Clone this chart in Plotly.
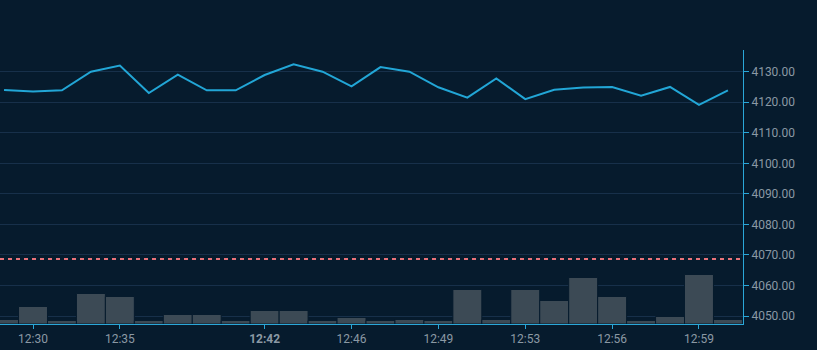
import plotly.graph_objects as go

# ---- data ----
idx = list(range(26))
price = [4124.0, 4123.5, 4123.9, 4130.0, 4132.0, 4123.0, 4129.0, 4123.9, 4123.9, 4128.9,
         4132.4, 4130.0, 4125.2, 4131.5, 4130.0, 4124.9, 4121.5, 4127.8, 4121.0, 4124.1,
         4124.8, 4125.0, 4122.1, 4125.0, 4119.1, 4123.9]
volume = [9, 35, 7, 61, 55, 7, 19, 19, 7, 27, 27, 7, 13, 7, 9, 7, 69, 9, 69, 47,
          93, 55, 7, 15, 99, 9]
tick_pos = [1, 4, 9, 12, 15, 18, 21, 24]
tick_labels = ["12:30", "12:35", "<b>12:42</b>", "12:46", "12:49", "12:53", "12:56", "12:59"]
ref_level = 4068.7

BG = "#061b2d"
AXIS = "#2aa7d8"
GRID = "#17304a"
TXT = "#8b99a4"
FONT = "Roboto"

fig = go.Figure()
fig.add_trace(go.Bar(x=idx, y=volume, yaxis="y2", width=1,
                     marker=dict(color="#3c4a55", line=dict(color=BG, width=1)),
                     hoverinfo="skip"))
fig.add_trace(go.Scatter(x=idx, y=price, mode="lines",
                         line=dict(color="#22a6d6", width=2)))

fig.add_shape(type="line", xref="paper", x0=0, x1=1, yref="y", y0=ref_level, y1=ref_level,
              line=dict(color="#e8737a", width=2, dash="4px,4px"), layer="above")

fig.update_layout(
    width=817, height=350,
    margin=dict(l=0, r=74, t=50, b=26),
    paper_bgcolor=BG, plot_bgcolor=BG,
    showlegend=False,
    font=dict(family=FONT, size=12, color=TXT),
    xaxis=dict(range=[-0.14, 25.52], tickvals=tick_pos, ticktext=tick_labels,
               showgrid=False, zeroline=False, showline=True, linecolor=AXIS, linewidth=1,
               ticks="outside", ticklen=4, tickcolor=AXIS, tickfont=dict(color=TXT, size=12)),
    yaxis=dict(side="right", range=[4047.38, 4137.1], dtick=10, tick0=4050, tickformat=".2f",
               showgrid=True, gridcolor=GRID, gridwidth=1, zeroline=False,
               showline=True, linecolor=AXIS, linewidth=1, ticks="outside", ticklen=5,
               tickcolor=AXIS, tickfont=dict(color=TXT, size=12)),
    yaxis2=dict(overlaying="y", range=[0, 548], visible=False, showgrid=False),
)

fig.write_html("out.html")
